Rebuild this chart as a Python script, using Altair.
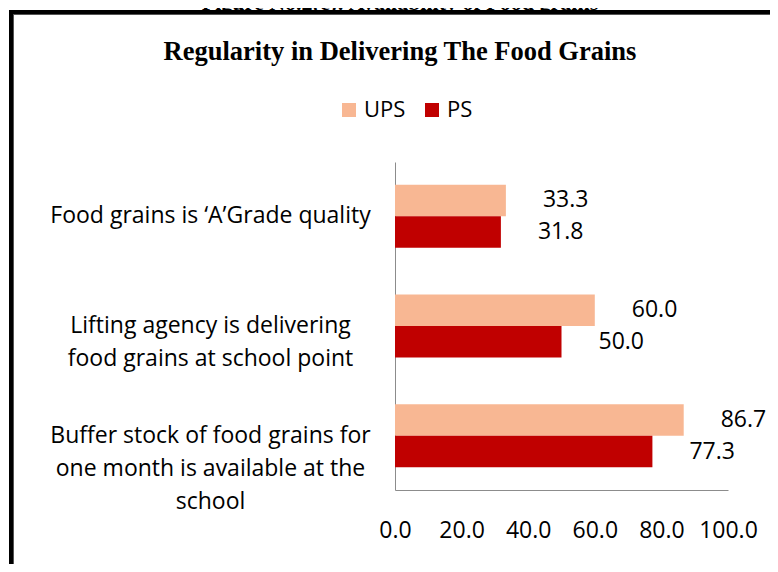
import altair as alt
import pandas as pd

# ---- data ----
categories = [
    "Food grains is \u2018A\u2019Grade quality",
    "Lifting agency is delivering\nfood grains at school point",
    "Buffer stock of food grains for\none month is available at the\nschool",
]
series = ["UPS", "PS"]
ups_values = [33.3, 60.0, 86.7]
ps_values = [31.8, 50.0, 77.3]
x_ticks = [0, 20, 40, 60, 80, 100]
colors = ["#F8B793", "#C00000"]
chart_title = "Regularity in Delivering The Food Grains"
figure_caption = "Figure No.2(c): Availability of Food grains"

rows = []
for c, u, p in zip(categories, ups_values, ps_values):
    rows.append({"cat": c, "series": "UPS", "value": u})
    rows.append({"cat": c, "series": "PS", "value": p})
df = pd.DataFrame(rows)

FONT = "Open Sans"
SERIF = "Liberation Serif"
FS = 23

y_enc = alt.Y(
    "cat:N",
    sort=categories,
    scale=alt.Scale(paddingInner=0.426, paddingOuter=0.207),
    axis=alt.Axis(
        title=None,
        ticks=False,
        domainColor="#8c8c8c",
        domainWidth=1,
        labelAlign="center",
        labelBaseline="middle",
        labelPadding=185,
        labelFont=FONT,
        labelFontSize=FS,
        labelColor="black",
        labelExpr="split(datum.label, '\\n')",
        labelLineHeight=33,
        labelLimit=0,
    ),
)
x_enc = alt.X(
    "value:Q",
    scale=alt.Scale(domain=[0, 100]),
    axis=alt.Axis(
        title=None,
        values=x_ticks,
        format=".1f",
        grid=False,
        ticks=False,
        domainColor="#8c8c8c",
        domainWidth=1,
        labelPadding=29,
        labelFlush=False,
        labelOverlap=False,
        labelFont=FONT,
        labelFontSize=FS,
        labelColor="black",
    ),
)
yoff = alt.YOffset("series:N", sort=series)

base = alt.Chart(df)

bars = base.mark_bar().encode(
    y=y_enc,
    x=x_enc,
    yOffset=yoff,
    color=alt.Color(
        "series:N",
        sort=series,
        scale=alt.Scale(domain=series, range=colors),
        legend=alt.Legend(
            title=None,
            orient="none",
            legendX=-57,
            legendY=-63,
            direction="horizontal",
            symbolType="square",
            symbolSize=196,
            symbolStrokeWidth=0,
            symbolOpacity=1,
            labelFont=FONT,
            labelFontSize=22,
            labelColor="black",
            labelOffset=4,
            columnPadding=15,
        ),
    ),
)

labels = base.mark_text(
    align="left", baseline="middle", dx=37, font=FONT, fontSize=FS, color="black"
).encode(
    y=alt.Y("cat:N", sort=categories),
    x=alt.X("value:Q"),
    yOffset=yoff,
    text=alt.Text("value:Q", format=".1f"),
)

one = pd.DataFrame({"k": [0]})
title_mark = alt.Chart(one).mark_text(
    font=SERIF, fontSize=26.5, fontWeight="bold", color="black",
    align="center", baseline="middle"
).encode(x=alt.value(5), y=alt.value(-110), text=alt.value(chart_title))

frame_top = alt.Chart(one).mark_rule(color="black", strokeWidth=4).encode(
    x=alt.value(-386), x2=alt.value(380), y=alt.value(-150)
)
frame_top_inner = alt.Chart(one).mark_rule(color="#555555", strokeWidth=1).encode(
    x=alt.value(-381), x2=alt.value(380), y=alt.value(-147.5)
)
frame_left = alt.Chart(one).mark_rule(color="black", strokeWidth=4).encode(
    x=alt.value(-384), y=alt.value(-152), y2=alt.value(410)
)
frame_left_inner = alt.Chart(one).mark_rule(color="#555555", strokeWidth=1).encode(
    x=alt.value(-381.5), y=alt.value(-148), y2=alt.value(410)
)
caption = alt.Chart(one).mark_text(
    font=SERIF, fontSize=22, fontWeight="bold", color="black",
    align="center", baseline="alphabetic"
).encode(x=alt.value(5), y=alt.value(-152), text=alt.value(figure_caption))

chart = alt.layer(
    bars, labels, title_mark, caption,
    frame_top, frame_top_inner, frame_left, frame_left_inner
).properties(
    width=333,
    height=328,
    padding={"left": 387, "top": 154, "right": 42, "bottom": 74},
    autosize=alt.AutoSizeParams(type="none"),
).configure(background="white").configure_view(stroke="transparent", strokeWidth=0)

chart.save("out.html", embed_options={"renderer": "svg", "actions": False})
